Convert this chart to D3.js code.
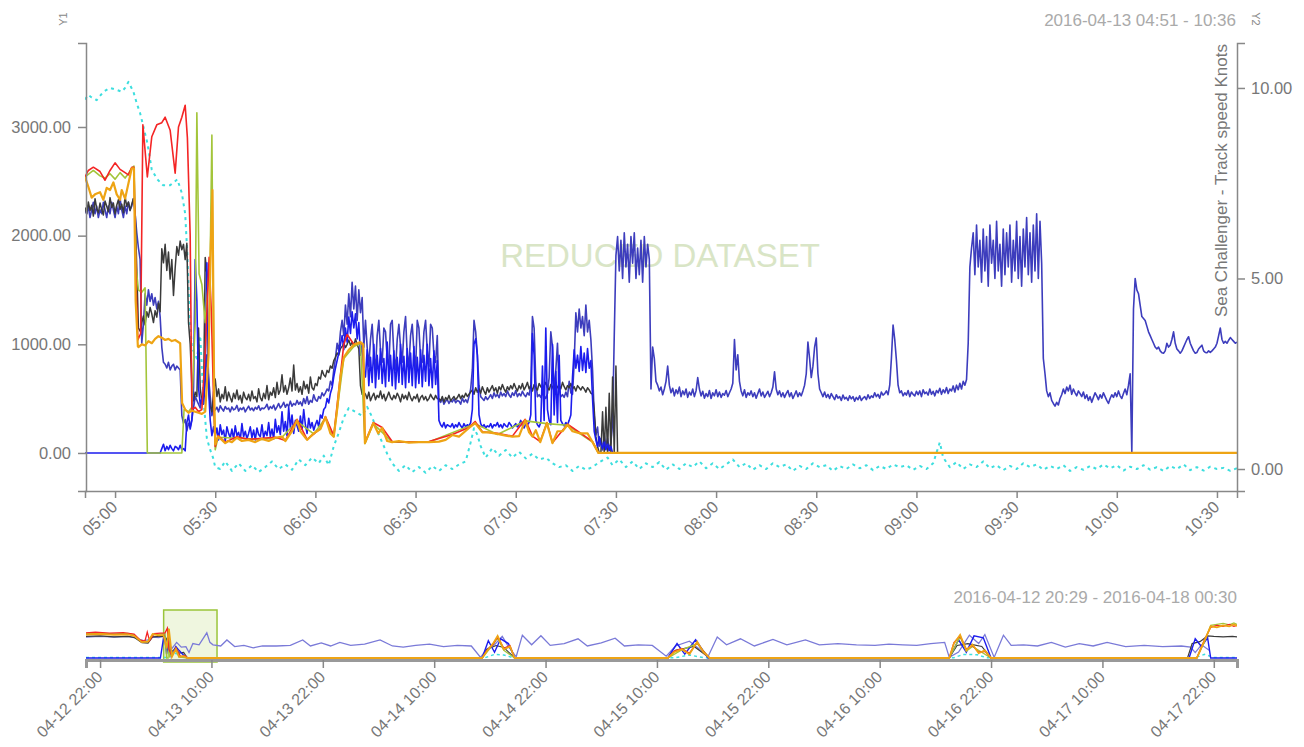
<!DOCTYPE html>
<html lang="en">
<head>
  <meta charset="UTF-8">
  <title>Sea Challenger - Track speed</title>
  <script src="https://cdn.jsdelivr.net/npm/d3@7/dist/d3.min.js"></script>
  <style>
    body { margin: 0; background: #fff; overflow: hidden; }
    svg text { font-family: "Liberation Sans", Arial, sans-serif; }
    .axis path, .axis line { stroke: #888; stroke-width: 1.5; }
    .axis text { fill: #777; font-size: 16.5px; }
    .ov-axis path { stroke: #999; stroke-width: 3; }
    .ov-axis line { stroke: #888; stroke-width: 1.5; }
    .ov-axis text { fill: #777; font-size: 16px; }
  </style>
</head>
<body>
<svg id="chart" width="1304" height="747"></svg>
<script>
  // ---- main window: 2016-04-13 04:51 - 10:36, sampled every 30 s ----
  const day = '2016-04-13';
  const sampleStart = '04:51';
  const sampleSeconds = 30;

  // track speed, knots (Y2)
  const speedKnots = [
    6.8,6.7,6.9,6.6,6.8,7.0,6.7,6.9,6.6,6.8, 6.7,7.0,6.8,6.6,6.9,6.7,7.0,6.8,6.6,6.9,
    6.7,7.1,6.8,6.6,6.9,6.7,7.0,6.8,6.9,7.1, 6.7,
    6.2,5.8,5.5,3.3,3.8,4.6,4.3,4.7,4.4,4.6,4.3,4.5,4.2,4.4,4.0,
    3.2,2.8,2.75,2.65,2.8,2.6,2.7,2.75,2.6,2.7,2.65,2.6,
    1.4,1.2,1.3,1.0,1.2,1.1,1.3,1.6,1.9,1.8,1.7,1.6,1.8,1.7,2.3,3.0,2.4,1.9,1.4,1.6,
    // 05:30
    1.55,1.62,1.5,1.66,1.58,1.52,1.64,1.57,1.6,1.5, 1.63,1.55,1.58,1.67,1.52,1.6,1.56,1.62,1.5,1.58,
    1.65,1.55,1.6,1.53,1.62,1.57,1.66,1.54,1.6,1.58, 1.62,1.7,1.56,1.64,1.59,1.68,1.55,1.63,1.72,1.6,
    1.66,1.75,1.62,1.7,1.64,1.78,1.65,1.72,1.68,1.8, 1.7,1.76,1.66,1.85,1.72,1.9,1.7,1.8,1.75,1.95,
    1.82,1.78,1.9,1.85,2.0,1.92,
    // 06:03
    2.0,2.1,2.05,2.3,2.2,2.6,2.9,3.3,3.1,3.6, 3.9,3.5,4.3,3.8,4.6,4.0,4.9,4.2,4.8,3.9, 4.7,4.1,4.5,3.2,
    // 06:15
    3.9,3.2,2.7,3.4, 3.8,3.0,2.6,3.5, 3.9,3.1,2.8,3.7, 3.6,2.9,2.7,3.8, 3.9,3.0,2.6,3.4, 3.8,3.2,2.8,3.6,
    4.0,3.0,2.7,3.5, 3.8,3.1,2.6,3.9, 3.7,2.9,2.8,3.6, 3.9,3.1,2.7,3.8, 3.7,3.0,2.8,3.5,
    // 06:37
    1.8,1.75,1.85,1.7,1.78,1.82,1.72,1.8,1.76,1.84, 1.74,1.8,1.78,1.7,1.86,1.76,1.82,1.74,1.9,2.1,
    2.6,3.9,3.6,3.0,2.2,1.9,1.85,1.8,1.9,1.82,
    1.88,1.95,1.85,2.0,1.9,1.96,1.87,2.02,1.92,1.98, 1.9,2.05,1.94,1.88,2.0,1.93,2.06,1.9,1.98,1.92,
    2.04,1.95,1.9,2.0,1.94,2.2,
    4.0,3.7,2.3,1.9, 1.95,1.88,2.0,1.92,1.85,1.98,2.4, 3.6,3.2,2.0, 2.6,3.3,2.1,1.9,
    1.95,1.88,2.02,1.9,2.3,2.0,1.96,2.8,
    4.1,3.6,4.2,3.7,4.0,3.5,4.3,3.6,3.9,3.4,2.6,
    1.4,0.9,1.1,0.6,0.8,0.5,0.9,0.6,0.8,0.5,0.7,1.2, 3.5,
    // 07:30
    5.6,6.1,5.2,6.0,5.0,6.2,5.3,5.9,4.9,6.1, 5.4,6.2,5.0,5.8,5.1,6.0,4.9,6.1,5.3,5.9,
    5.5,2.1,3.2,2.9,2.3,
    2.2,2.05,2.15,1.95,2.1,2.3,2.7,2.2,2.0,2.12, 1.92,2.08,1.98,2.15,1.9,2.05,1.95,2.1,1.88,2.02,
    1.94,2.1,1.9,2.05,2.4,2.1,1.92,2.04,1.86,1.98, 1.9,2.06,1.85,2.0,1.92,2.08,
    // 08:00
    1.9,2.02,1.88,1.98,1.94,2.06,1.9,2.0,2.1,2.25, 3.4,2.6,3.0,2.3,2.05,1.92,2.08,1.88,2.0,1.94,
    2.05,1.9,2.0,1.86,1.98,2.1,1.92,2.02,1.88,1.96, 2.04,1.9,2.0,2.15,2.55,2.1,1.95,2.05,1.9,2.0,
    1.88,1.98,2.06,1.9,2.0,1.85,1.95,2.05,1.9,2.0, 1.92,2.05,2.2,2.5,3.33,2.9,2.4,2.7,3.2,3.44,
    // 08:30
    2.5,2.1,2.0,1.9,2.02,1.88,1.96,1.85,1.98,1.9, 1.82,1.95,1.86,1.9,1.8,1.94,1.84,1.88,1.8,1.92,
    1.84,1.9,1.78,1.88,1.82,1.92,1.8,1.86,1.9,1.82, 1.95,1.85,1.92,1.88,2.0,1.9,1.96,1.86,2.02,1.94,
    1.98,2.05,1.95,2.2,2.9,3.78,3.4,2.86,2.2,2.0, 2.05,1.92,2.0,1.94,2.06,1.9,2.02,1.96,1.92,2.04,
    // 09:00
    1.95,2.05,1.9,2.08,1.98,2.02,1.94,2.1,1.96,2.04, 1.92,2.06,2.0,2.12,1.96,2.08,2.0,2.14,1.98,2.1,
    2.05,2.18,2.02,2.2,2.08,2.25,2.1,2.3,2.2,2.35, 3.3,5.3,
    5.8,6.2,5.1,6.4,5.3,6.0,4.9,6.3,5.2,6.1, 4.8,6.4,5.4,6.0,5.0,6.5,5.2,5.9,4.8,6.3,
    5.1,6.2,5.3,6.4,4.9,6.0,5.2,6.5,5.0,6.1, 4.8,6.3,5.3,6.6,5.1,6.2,4.9,6.4,5.2,6.7,
    5.0,6.5,5.4, 2.9,2.5,
    2.05,1.9,2.0,1.8,1.72,1.65,1.75,1.68,1.85,1.95, 2.1,1.98,2.15,2.05,2.2,1.96,2.1,2.0,1.92,2.05,
    1.98,1.9,2.02,1.85,1.95,1.8,1.9,1.75,1.88,2.0, 1.92,1.82,1.95,1.86,2.0,1.9,1.8,1.72,1.85,1.95,
    1.88,2.0,1.9,2.05,1.92,1.85,1.98,2.1,1.95,2.2, 2.5,
    0.45,4.2,5.0,
    // 10:06
    4.7,4.6,4.3,4.0,3.95,3.9,3.75,3.6,3.5,3.4, 3.3,3.2,3.15,3.2,3.1,3.05,3.04,3.1,3.3,3.2,
    3.25,3.4,3.6,3.3,3.15,3.1,3.04,3.1,3.2,3.3, 3.4,3.47,3.3,3.2,3.1,3.04,3.06,3.15,3.2,3.25,
    3.1,3.06,3.05,3.1,3.06,3.1,3.15,3.2,3.3,3.5, 3.7,3.4,3.3,3.35,3.3,3.38,3.45,3.4,3.35,3.3,
    3.33
  ];

  // dark grey channel (Y1)
  const blackY1 = [
    2260,2200,2310,2230,2280,2180,2340,2250,2210,2300, 2240,2190,2320,2270,2220,2350,2260,2300,2200,2280,
    2330,2240,2290,2210,2360,2270,2310,2230,2290,2340, 2250,
    1700,1150,1120,1200,1260,1180,1300,1250,1340,1280,1200,1310,1250,1380,1300,
    1880,1750,1920,1680,1850,1600,1780,1450,1700,1900, 1820,1950,1870,1920,1780,1930,1200,1000,620,480,
    560,520,1150,600,470,520,1800,1650,600,430, 380,560,
    // 05:30
    680,520,590,470,540,500,610,480,560,510, 470,550,500,580,490,530,460,560,510,490,
    540,480,570,500,520,470,590,510,480,550, 500,620,490,560,530,600,510,650,540,580,
    720,560,620,540,600,690,570,810,580,640, 560,610,540,660,590,630,550,700,600,580,
    640,620,700,680,760,720,
    // 06:03
    700,760,740,800,780,850,880,920,900,960, 980,1010,970,1000,1040,990,1020,980,1050,1000,
    960,620,540,560,
    540,500,560,480,520,550,490,530,510,570, 500,540,480,520,560,510,490,530,500,550,
    520,470,540,500,530,490,560,510,480,520, 500,540,470,510,530,490,520,480,500,540,
    510,490,530,500,
    // 06:37
    500,480,520,470,510,490,530,480,500,520, 490,510,540,500,530,510,550,520,540,560,
    580,540,600,560,590,550,610,570,540,600, 560,590,620,570,600,550,610,580,630,590,
    560,610,580,620,590,640,
    600,570,620,590,640,580,610,650,590,620, 570,630,600,580,640,610,590,620,650,600,
    580,630,610,570,640,600,620,590,650,610, 580,620,600,640,590,610,570,620,600,580,
    610,590,560,600,580,550,
    540,400,150,60,0,0,380,0,420,0,550,0,700,0,800,0
  ];

  // bright blue channel (Y1)
  const blueY1 = [
    0,0,0,0,0,0,0,0,0,0, 0,0,0,0,0,0,0,0,0,0, 0,0,0,0,0,0,0,0,0,0, 0,0,0,0,0,0,0,0,0,0, 0,0,0,0,0,0,
    40,80,20,60,30,70,40,20,60,50, 30,70,30,40,20,280,350,220,300,600,
    1780,1400,600,450,500,480,700,1750,600,300, 160,240,
    // 05:30
    150,230,120,260,170,210,110,240,180,140, 220,130,250,160,190,120,270,150,200,130,
    180,240,140,210,120,230,170,150,260,140, 200,160,280,150,220,130,310,190,250,170,
    380,200,290,160,420,230,350,180,300,250, 200,340,220,400,260,180,320,230,280,210,
    260,300,240,350,320,400,
    420,500,460,550,600,700,780,850,920,1000, 1080,950,1150,1020,1250,1100,1300,1150,1280,1050,
    1200,900,1000,750,
    700,950,620,880, 650,1000,600,900, 680,960,640,870, 610,1020,660,900, 620,940,590,880,
    650,1000,630,890, 600,960,650,920, 620,980,600,880, 640,950,610,900, 660,1000,620,870,
    600,940,630,850,
    // 06:37
    300,260,240,280,230,260,250,240,270,230, 260,240,280,250,230,270,240,260,250,280,
    400,1000,1050,900,350,270,240,260,230,250,
    240,270,230,260,250,280,240,260,230,270, 250,240,280,260,230,250,270,240,260,300,
    250,230,270,260,280,350,
    1100,900,300,260, 240,280,800,300,1150,400, 300,260,1000,350,750,280, 900,300,270,250,
    280,260,300,350,
    700,950,780,900,750,980,760,920,740,960,780,850,500,
    200,120,60,150,80,40,100,30,80,20,60,0,0,0,0,0
  ];

  // irregular channels: [clock, value]
  const orangeY1 = [
    ['04:51',2540],['04:52',2450],['04:53',2350],['04:54',2380],['04:55:30',2400],['04:56:30',2330],
    ['04:57:30',2440],['04:58:30',2420],['04:59:30',2490],['05:00:30',2380],['05:01:30',2330],['05:02',2420],
    ['05:03',2340],['05:04',2480],['05:05',2620],['05:05:40',2620],['05:06:10',1400],['05:06:50',980],
    ['05:07',975],['05:08',1000],['05:09',990],['05:10',1030],['05:11',1010],['05:12',1050],['05:13',1075],
    ['05:14',1060],['05:15',1040],['05:16',1050],['05:17',1030],['05:18',1040],['05:19:30',1010],['05:20:05',460],
    ['05:21',400],['05:22',370],['05:23',390],['05:24',380],['05:25',370],['05:26',360],['05:27',380],
    ['05:28',900],['05:28:40',1900],['05:29:10',2420],['05:29:40',600],['05:30',80],
    ['05:30:50',150],['05:32',120],['05:33',90],['05:34',110],['05:35',100],['05:36:30',140],['05:38',110],
    ['05:40',120],['05:42',100],['05:44',130],['05:46',110],['05:48',140],['05:50',150],['05:51',110],
    ['05:53',200],['05:54:30',300],['05:55:30',200],['05:57:30',120],['05:59:30',180],['06:01:30',220],
    ['06:03',330],['06:04:30',180],['06:05:30',150],['06:06:30',400],['06:07:30',700],['06:08:30',880],
    ['06:10',950],['06:11:30',995],['06:13:30',1020],['06:14:20',1000],['06:14:50',90],['06:17:20',275],
    ['06:18:50',180],['06:20',230],['06:21:30',110],['06:23',100],['06:25',110],['06:28',95],['06:31',100],
    ['06:34',100],['06:37',105],['06:39',120],['06:41',165],['06:43',150],['06:46',230],['06:47:50',275],
    ['06:50',190],['06:52',190],['06:54:30',175],['06:57',160],['06:59',150],['07:01',155],['07:02:50',300],
    ['07:04',190],['07:05',150],['07:06',210],['07:07:20',100],['07:09:20',275],['07:11',90],['07:12:30',200],
    ['07:14',200],['07:15:30',260],['07:17',200],['07:19:20',180],['07:21:30',180],['07:23',100],
    ['07:24:45',0],['10:36',0]
  ];

  const redY1 = [
    ['04:51',2540],['04:52',2600],['04:53:30',2630],['04:55:30',2590],['04:57',2510],['04:58:30',2600],
    ['05:00',2670],['05:01:30',2610],['05:03',2580],['05:04',2560],['05:05',2630],['05:05:40',2630],
    ['05:06:20',1500],['05:06:50',1040],['05:07:40',1100],['05:08:20',3020],['05:09:40',2540],['05:11',2910],
    ['05:12:30',3020],['05:14',3040],['05:15',3090],['05:16:30',2970],['05:18',2575],['05:19',3000],
    ['05:20',3090],['05:21',3200],['05:21:40',2900],['05:22:30',2000],['05:23',400],['05:24',420],
    ['05:25',380],['05:26',400],['05:27',920],['05:28:10',1800],['05:28:50',1300],['05:29:30',500],
    ['05:30',60],['05:30:50',160],['05:33',100],['05:36:30',150],['05:40',125],['05:44',135],['05:48',145],
    ['05:51',115],['05:54:30',310],['05:57:30',125],['06:01:30',225],['06:03',335],['06:05:30',160],
    ['06:07:30',720],['06:08:30',1000],['06:09:30',1090],['06:11:30',1000],['06:13:30',1015],['06:14:20',990],
    ['06:14:50',95],['06:17:20',280],['06:20',235],['06:23',105],['06:28',100],['06:34',105],['06:41',170],
    ['06:46',235],['06:47:50',290],['06:50',195],['06:54:30',180],['06:59',155],['07:02:50',310],['07:05',155],
    ['07:07:20',105],['07:09:20',280],['07:11',95],['07:15:30',265],['07:19:20',185],['07:23',105],
    ['07:24:45',0],['10:36',0]
  ];

  const limeY1 = [
    ['04:51',2540],['04:53:30',2600],['04:55:30',2550],['04:57',2530],['04:58:30',2570],['05:00',2520],
    ['05:01:30',2580],['05:03',2530],['05:04',2570],['05:05',2620],['05:05:40',2640],['05:06:20',1700],
    ['05:07',1500],['05:08',1480],['05:09',1520],['05:09:40',0],['05:20',0],['05:20:40',400],['05:22',380],
    ['05:23',420],['05:24',1200],['05:24:30',3130],['05:25:10',1650],['05:26',1550],['05:27',1200],
    ['05:28:30',1800],['05:29',2925],['05:29:40',400],['05:30',30],['05:30:50',145],['05:36:30',135],
    ['05:44',125],['05:50',145],['05:54:30',290],['05:59:30',175],['06:03',320],['06:05:30',150],
    ['06:08:30',870],['06:11:30',980],['06:13:30',1010],['06:14:50',85],['06:17:20',270],['06:23',100],
    ['06:34',100],['06:47:50',270],['06:54:30',170],['07:02:50',295],['07:09:20',270],['07:15:30',255],
    ['07:23',100],['07:24:45',0],['10:36',0]
  ];

  // dotted cyan channel, knots (Y2)
  const cyanKnots = [
    ['04:51',9.7],['04:52',9.82],['04:53',9.75],['04:54:30',9.68],['04:56:30',9.9],['04:58:30',10.0],
    ['05:00:30',9.95],['05:02',9.9],['05:03',10.0],['05:04',10.16],['05:05:30',9.9],['05:06:30',9.6],
    ['05:07:30',9.34],['05:09:40',8.56],['05:11',7.85],['05:12:40',7.6],['05:14:20',7.45],['05:16:30',7.45],
    ['05:18:40',7.6],['05:20',7.24],['05:21',6.7],['05:21:40',5.6],['05:22:20',4.0],['05:23',3.2],
    ['05:24:30',2.9],['05:25:30',3.5],['05:26:30',1.8],['05:27:30',0.8],['05:28:30',0.5],['05:29:20',0.3],
    ['05:30',0.05],['05:31:30',0.0],['05:33',0.2],['05:35',-0.05],['05:37',0.15],['05:39',-0.05],
    ['05:41',0.1],['05:43',-0.08],['05:45',0.05],['05:47',0.2],['05:49',0.0],['05:51',0.12],['05:53',-0.02],
    ['05:55',0.25],['05:57',0.1],['05:59',0.3],['06:01',0.15],['06:02:30',0.35],['06:04',0.1],['06:05:30',0.6],
    ['06:07',0.95],['06:08:30',1.35],['06:10',1.6],['06:12',1.5],['06:14',1.4],['06:15:30',1.63],['06:17',1.36],
    ['06:18:30',1.0],['06:20',0.7],['06:21:30',0.4],['06:23',0.15],['06:25',-0.05],['06:27',0.1],['06:29',-0.08],
    ['06:31',0.05],['06:33',-0.1],['06:35',0.08],['06:37',-0.05],['06:39',0.1],['06:41',0.0],['06:43',0.12],
    ['06:45',0.2],['06:46:30',0.7],['06:47:30',1.07],['06:48:30',0.9],['06:49:30',0.6],['06:51',0.3],
    ['06:53',0.55],['06:55',0.35],['06:57',0.5],['06:59',0.3],['07:01',0.45],['07:03',0.28],['07:05',0.4],
    ['07:07',0.25],['07:09',0.3],['07:11',0.15],['07:13',0.05],['07:15',0.1],['07:17',-0.05],['07:19',0.08],
    ['07:21',-0.02],['07:23',0.05],['07:25',0.18],['07:27:30',0.3],['07:29',0.1],['07:31',0.25],['07:33',0.05],
    ['07:35',0.2],['07:37',0.0],['07:39',0.15],['07:41',0.05],['07:43',0.18],['07:45',-0.02],['07:47',0.12],
    ['07:49',0.0],['07:51',0.15],['07:53',0.05],['07:55',0.2],['07:57',0.02],['07:59',0.15],['08:01',0.0],
    ['08:03',0.12],['08:05',0.25],['08:07',0.05],['08:09',0.15],['08:11',-0.02],['08:13',0.1],['08:15',0.0],
    ['08:17',0.15],['08:19',0.05],['08:21',0.12],['08:23',-0.05],['08:25',0.08],['08:27',0.0],['08:29',0.15],
    ['08:31',0.05],['08:33',0.1],['08:35',-0.05],['08:37',0.08],['08:39',0.0],['08:41',0.12],['08:43',0.02],
    ['08:45',0.1],['08:47',-0.03],['08:49',0.08],['08:51',0.0],['08:53',0.12],['08:55',0.05],['08:57',0.1],
    ['08:59',-0.02],['09:01',0.08],['09:03',0.0],['09:05',0.15],['09:07',0.7],['09:08',0.3],['09:10',0.05],
    ['09:12',0.18],['09:14',0.0],['09:16',0.12],['09:18',0.05],['09:20',0.2],['09:22',0.02],['09:24',0.1],
    ['09:26',-0.03],['09:28',0.08],['09:30',0.0],['09:32',0.15],['09:34',0.05],['09:36',0.12],['09:38',-0.02],
    ['09:40',0.08],['09:42',0.0],['09:44',0.1],['09:46',-0.05],['09:48',0.05],['09:50',-0.02],['09:52',0.08],
    ['09:54',0.0],['09:56',0.12],['09:58',0.02],['10:00',0.1],['10:02',-0.04],['10:04',0.06],['10:06',0.0],
    ['10:08',0.1],['10:10',-0.02],['10:12',0.05],['10:14',-0.05],['10:16',0.08],['10:18',0.0],['10:20',0.12],
    ['10:22',-0.03],['10:24',0.05],['10:26',-0.04],['10:28',0.06],['10:30',0.0],['10:32',0.03],['10:34',-0.05],
    ['10:36',0.02]
  ];

  const y1Ticks = [0, 1000, 2000, 3000];
  const y2Ticks = [0, 5, 10];

  // ---- overview (reduced dataset): 2016-04-12 20:29 - 2016-04-18 00:30 ----
  const overviewTicks = ['04-12 22:00','04-13 10:00','04-13 22:00','04-14 10:00','04-14 22:00','04-15 10:00',
    '04-15 22:00','04-16 10:00','04-16 22:00','04-17 10:00','04-17 22:00'];

  const ovSpeed = [
    ['04-12 20:29',3.5],['04-12 22:00',3.6],['04-12 23:30',3.5],['04-13 01:00',3.6],['04-13 01:40',3.4],
    ['04-13 02:40',2.9],['04-13 03:10',3.0],['04-13 03:40',3.5],['04-13 04:20',3.4],['04-13 04:50',3.6],
    ['04-13 05:15',2.6],['04-13 05:45',1.6],['04-13 06:15',2.6],['04-13 06:45',1.8],['04-13 07:15',1.9],
    ['04-13 07:35',0.9],['04-13 08:00',2.4],['04-13 08:40',2.2],['04-13 09:10',3.4],['04-13 09:30',4.2],
    ['04-13 09:50',2.6],['04-13 10:10',2.2],['04-13 11:00',2.0],['04-13 11:40',3.0],['04-13 12:30',1.9],
    ['04-13 13:30',2.1],['04-13 14:30',1.7],['04-13 15:30',2.0],['04-13 17:00',2.0],['04-13 18:30',2.1],
    ['04-13 19:50',3.0],['04-13 20:40',2.0],['04-13 21:50',2.5],['04-13 22:50',2.0],['04-13 23:50',2.6],
    ['04-14 01:00',2.1],['04-14 02:30',2.3],['04-14 04:10',3.0],['04-14 05:30',2.0],['04-14 06:40',1.8],
    ['04-14 08:00',2.1],['04-14 09:30',2.3],['04-14 11:00',1.9],['04-14 12:30',2.1],['04-14 14:00',2.0],
    ['04-14 15:00',0.1],['04-14 15:40',1.5],['04-14 16:30',2.2],['04-14 17:20',3.6],['04-14 18:00',1.9],
    ['04-14 18:50',0.2],['04-14 19:30',3.8],['04-14 20:30',2.2],['04-14 21:30',3.7],['04-14 22:30',2.1],
    ['04-15 00:00',2.4],['04-15 01:30',3.2],['04-15 02:30',2.0],['04-15 04:00',2.5],['04-15 05:30',3.3],
    ['04-15 06:30',2.0],['04-15 08:00',2.2],['04-15 09:30',2.1],['04-15 11:00',0.3],['04-15 12:00',2.0],
    ['04-15 13:30',2.8],['04-15 14:30',1.6],['04-15 15:30',0.2],['04-15 16:30',3.5],['04-15 17:30',2.2],
    ['04-15 19:00',3.2],['04-15 20:30',2.0],['04-15 22:30',3.1],['04-16 00:00',2.2],['04-16 02:00',3.0],
    ['04-16 03:30',2.2],['04-16 05:30',2.4],['04-16 07:30',2.2],['04-16 09:30',2.1],['04-16 11:00',2.3],
    ['04-16 12:30',2.2],['04-16 14:00',2.1],['04-16 15:30',2.4],['04-16 17:00',2.6],['04-16 17:30',0.1],
    ['04-16 18:30',1.0],['04-16 19:40',3.8],['04-16 20:40',2.4],['04-16 21:20',3.9],['04-16 22:20',0.1],
    ['04-16 23:20',3.8],['04-17 00:10',2.1],['04-17 01:30',2.2],['04-17 03:00',2.0],['04-17 04:30',2.6],
    ['04-17 06:00',1.8],['04-17 07:30',2.4],['04-17 09:00',2.0],['04-17 10:30',2.6],['04-17 12:30',1.9],
    ['04-17 14:30',2.1],['04-17 16:30',1.9],['04-17 18:30',2.0],['04-17 19:30',1.8],['04-17 20:00',0.9],
    ['04-17 20:40',2.2],['04-17 21:30',1.3]
  ];

  const ovOrange = [
    ['04-12 20:29',2450],['04-12 22:00',2500],['04-12 23:30',2400],['04-13 01:00',2450],['04-13 01:40',2300],
    ['04-13 02:30',1650],['04-13 03:10',1700],['04-13 03:40',2500],['04-13 04:20',2350],['04-13 04:50',2400],
    ['04-13 05:10',1000],['04-13 05:25',3000],['04-13 05:45',150],['04-13 06:10',950],['04-13 06:30',120],
    ['04-13 07:00',200],['04-13 07:25',0],['04-14 15:10',0],['04-14 15:40',700],['04-14 16:20',1500],
    ['04-14 16:50',2300],['04-14 17:30',900],['04-14 18:10',1200],['04-14 18:40',0],['04-15 11:10',0],
    ['04-15 11:50',600],['04-15 12:40',900],['04-15 13:30',400],['04-15 14:20',1700],['04-15 15:00',600],
    ['04-15 15:40',0],['04-16 17:30',0],['04-16 18:00',1500],['04-16 18:40',2400],['04-16 19:20',800],
    ['04-16 20:00',1400],['04-16 20:40',500],['04-16 21:20',800],['04-16 22:00',0],['04-17 20:10',0],
    ['04-17 21:00',1800],['04-17 21:40',3300],['04-17 22:20',3200],['04-17 23:00',3400],['04-17 23:40',3300],
    ['04-18 00:10',3500],['04-18 00:30',3350]
  ];

  const ovRed = [
    ['04-12 20:29',2620],['04-12 21:30',2680],['04-12 23:00',2600],['04-13 00:30',2650],['04-13 01:40',2500],
    ['04-13 02:20',1850],['04-13 02:50',1750],['04-13 03:05',2700],['04-13 03:20',1800],['04-13 03:50',2550],
    ['04-13 04:30',2600],['04-13 05:00',2620],['04-13 05:15',3100],['04-13 05:25',900],['04-13 05:45',200],
    ['04-13 06:10',1050],['04-13 06:40',150],['04-13 07:10',250],['04-13 07:25',0],['04-14 15:10',0],
    ['04-14 15:40',800],['04-14 16:20',1400],['04-14 16:50',2200],['04-14 17:30',1000],['04-14 18:10',1300],
    ['04-14 18:40',0],['04-15 11:10',0],['04-15 11:50',700],['04-15 12:40',1000],['04-15 13:30',500],
    ['04-15 14:20',1600],['04-15 15:00',700],['04-15 15:40',0],['04-16 17:30',0],['04-16 18:00',1600],
    ['04-16 18:40',2300],['04-16 19:20',900],['04-16 20:00',1300],['04-16 20:40',600],['04-16 21:20',700],
    ['04-16 22:00',0],['04-17 20:10',0],['04-17 21:00',1900],['04-17 21:40',3200],['04-17 22:20',3400],
    ['04-17 23:00',3300],['04-17 23:40',3500],['04-18 00:10',3300],['04-18 00:30',3400]
  ];

  const ovLime = [
    ['04-12 20:29',2550],['04-12 22:00',2580],['04-12 23:30',2520],['04-13 01:00',2560],['04-13 01:40',2400],
    ['04-13 02:30',1700],['04-13 03:10',1750],['04-13 03:40',2450],['04-13 04:30',2500],['04-13 05:00',2550],
    ['04-13 05:10',0],['04-13 05:20',0],['04-13 05:24',3100],['04-13 05:30',150],['04-13 06:10',950],
    ['04-13 06:30',120],['04-13 07:25',0],['04-14 15:10',0],['04-14 16:20',1400],['04-14 16:50',2100],
    ['04-14 17:30',800],['04-14 18:40',0],['04-15 11:10',0],['04-15 12:40',850],['04-15 14:20',1500],
    ['04-15 15:40',0],['04-16 17:30',0],['04-16 18:40',2200],['04-16 19:20',700],['04-16 20:00',1200],
    ['04-16 22:00',0],['04-17 20:10',0],['04-17 21:00',1700],['04-17 21:40',3400],['04-17 22:20',3500],
    ['04-17 23:00',3600],['04-17 23:40',3450],['04-18 00:10',3650],['04-18 00:30',3500]
  ];

  const ovBlack = [
    ['04-12 20:29',2250],['04-12 22:00',2300],['04-12 23:30',2200],['04-13 01:00',2250],['04-13 01:40',2150],
    ['04-13 02:30',1600],['04-13 03:10',1550],['04-13 03:40',2200],['04-13 04:30',2250],['04-13 05:00',2250],
    ['04-13 05:15',1800],['04-13 05:30',500],['04-13 06:10',1000],['04-13 06:30',500],['04-13 07:00',580],
    ['04-13 07:25',0],['04-14 15:10',0],['04-14 15:40',900],['04-14 16:40',1300],['04-14 17:30',1100],
    ['04-14 18:40',0],['04-15 11:10',0],['04-15 12:00',800],['04-15 14:00',1200],['04-15 15:40',0],
    ['04-16 17:30',0],['04-16 18:20',1300],['04-16 19:30',1500],['04-16 21:00',1200],['04-16 22:00',0],
    ['04-17 19:10',0],['04-17 19:40',1500],['04-17 20:30',1700],['04-17 21:20',2300],['04-17 22:00',2250],
    ['04-17 23:00',2200],['04-18 00:00',2250],['04-18 00:30',2200]
  ];

  const ovBlue = [
    ['04-12 20:29',0],['04-13 04:30',0],['04-13 04:55',2600],['04-13 05:10',400],['04-13 05:25',1800],
    ['04-13 05:40',200],['04-13 06:10',1200],['04-13 06:30',800],['04-13 07:00',300],['04-13 07:25',0],
    ['04-14 15:10',0],['04-14 15:50',1800],['04-14 16:30',600],['04-14 17:10',2000],['04-14 18:00',1500],
    ['04-14 18:40',0],['04-15 11:10',0],['04-15 12:10',1500],['04-15 13:00',400],['04-15 14:10',1900],
    ['04-15 15:30',0],['04-16 17:30',0],['04-16 18:30',1900],['04-16 19:20',600],['04-16 20:10',2300],
    ['04-16 21:10',2100],['04-16 22:00',0],['04-17 19:20',0],['04-17 20:00',2000],['04-17 20:40',1200],
    ['04-17 21:20',2100],['04-17 21:40',0],['04-18 00:30',0]
  ];

  const ovCyan = [
    ['04-12 20:29',0.1],['04-13 05:20',0.1],['04-13 05:40',0.6],['04-13 06:10',0.8],['04-13 06:40',0.2],
    ['04-13 07:30',0.05],['04-14 15:30',0.05],['04-14 16:30',0.6],['04-14 17:30',0.5],['04-14 18:30',0.05],
    ['04-15 12:00',0.05],['04-15 13:30',0.5],['04-15 15:00',0.05],['04-16 18:00',0.05],['04-16 19:00',0.6],
    ['04-16 20:30',0.55],['04-16 21:30',0.05],['04-17 20:00',0.05],['04-17 21:00',0.6],['04-17 22:00',0.1],
    ['04-18 00:30',0.1]
  ];

  // ---- helpers ----
  const parseFull = d3.timeParse('%Y-%m-%d %H:%M:%S');
  const clock = s => parseFull(`${day} ${s.length === 5 ? s + ':00' : s}`);
  const ovTime = s => parseFull(`2016-${s}:00`);
  const sampled = values => values.map((v, i) => ({ t: d3.timeSecond.offset(clock(sampleStart), i * sampleSeconds), v }));
  const paired = rows => rows.map(([t, v]) => ({ t: clock(t), v }));
  const ovPaired = rows => rows.map(([t, v]) => ({ t: ovTime(t), v }));

  const svg = d3.select('#chart');

  // ---- main chart ----
  const x = d3.scaleTime().domain([clock('04:51'), clock('10:36')]).range([85, 1237]);
  const y1 = d3.scaleLinear().domain([-350, 3773]).range([491, 43]);
  const y2 = d3.scaleLinear().domain([-0.577, 11.18]).range([491, 43]);

  svg.append('clipPath').attr('id', 'mainClip')
    .append('rect').attr('x', 85).attr('y', 43).attr('width', 1152).attr('height', 448);

  svg.append('text')
    .attr('x', 660).attr('y', 267)
    .attr('text-anchor', 'middle')
    .style('font-size', '33px')
    .style('fill', '#d9e5c6')
    .text('REDUCED DATASET');

  const mainSeries = [
    { data: paired(cyanKnots), y: y2, color: '#3ddede', width: 2, dash: '3,4' },
    { data: sampled(speedKnots), y: y2, color: '#3d3dbd', width: 1.6 },
    { data: sampled(blackY1), y: y1, color: '#3a3a3a', width: 1.5 },
    { data: sampled(blueY1), y: y1, color: '#1c1cee', width: 1.6 },
    { data: paired(limeY1), y: y1, color: '#a3c53a', width: 1.6 },
    { data: paired(redY1), y: y1, color: '#f42525', width: 1.6 },
    { data: paired(orangeY1), y: y1, color: '#eea414', width: 2.2 }
  ];

  const mainG = svg.append('g').attr('clip-path', 'url(#mainClip)');
  mainSeries.forEach(s => {
    mainG.append('path')
      .datum(s.data)
      .attr('fill', 'none')
      .attr('stroke', s.color)
      .attr('stroke-width', s.width)
      .attr('stroke-linejoin', 'round')
      .attr('stroke-dasharray', s.dash || null)
      .attr('d', d3.line().x(d => x(d.t)).y(d => s.y(d.v)));
  });

  const xAxis = svg.append('g').attr('class', 'axis')
    .attr('transform', 'translate(0,491)')
    .call(d3.axisBottom(x).ticks(d3.timeMinute.every(30)).tickFormat(d3.timeFormat('%H:%M')).tickSize(7));
  xAxis.selectAll('text')
    .attr('x', null).attr('y', null).attr('dy', null)
    .attr('transform', 'translate(3,17) rotate(-45)')
    .style('text-anchor', 'end');

  svg.append('g').attr('class', 'axis')
    .attr('transform', 'translate(86,0)')
    .call(d3.axisLeft(y1).tickValues(y1Ticks).tickFormat(d3.format('.2f')).tickSize(8).tickPadding(7));

  svg.append('g').attr('class', 'axis')
    .attr('transform', 'translate(1237,0)')
    .call(d3.axisRight(y2).tickValues(y2Ticks).tickFormat(d3.format('.2f')).tickSize(8).tickPadding(6));

  svg.append('text')
    .attr('transform', 'translate(1227,44) rotate(-90)')
    .attr('text-anchor', 'end')
    .style('font-size', '17px').style('fill', '#777')
    .text('Sea Challenger - Track speed Knots');

  svg.append('text')
    .attr('transform', 'translate(67,19) rotate(-90)')
    .attr('text-anchor', 'middle')
    .style('font-size', '11px').style('fill', '#888')
    .text('Y1');

  svg.append('text')
    .attr('transform', 'translate(1252,19) rotate(90)')
    .attr('text-anchor', 'middle')
    .style('font-size', '11px').style('fill', '#888')
    .text('Y2');

  svg.append('text')
    .attr('x', 1236).attr('y', 26)
    .attr('text-anchor', 'end')
    .style('font-size', '17px').style('fill', '#aaa')
    .text('2016-04-13 04:51 - 10:36');

  // ---- overview ----
  const ox = d3.scaleTime().domain([ovTime('04-12 20:29'), ovTime('04-18 00:30')]).range([86, 1237]);
  const oy1 = d3.scaleLinear().domain([-417, 5000]).range([662, 610]);
  const oy2 = d3.scaleLinear().domain([-0.67, 8]).range([662, 610]);

  svg.append('clipPath').attr('id', 'ovClip')
    .append('rect').attr('x', 86).attr('y', 600).attr('width', 1151).attr('height', 62);

  svg.append('rect')
    .attr('x', ox(clock('04:51'))).attr('y', 610)
    .attr('width', ox(clock('10:36')) - ox(clock('04:51'))).attr('height', 52)
    .attr('fill', 'rgba(154,197,58,0.16)')
    .attr('stroke', '#9ac53a').attr('stroke-width', 1.5);

  const ovSeries = [
    { data: ovPaired(ovCyan), y: oy2, color: '#3ddede', width: 1.5, dash: '3,3' },
    { data: ovPaired(ovSpeed), y: oy2, color: '#7a7ad8', width: 1.3 },
    { data: ovPaired(ovBlack), y: oy1, color: '#3a3a3a', width: 1.2 },
    { data: ovPaired(ovBlue), y: oy1, color: '#1c1cee', width: 1.4 },
    { data: ovPaired(ovLime), y: oy1, color: '#a3c53a', width: 1.3 },
    { data: ovPaired(ovRed), y: oy1, color: '#f42525', width: 1.3 },
    { data: ovPaired(ovOrange), y: oy1, color: '#eea414', width: 1.8 }
  ];

  const ovG = svg.append('g').attr('clip-path', 'url(#ovClip)');
  ovSeries.forEach(s => {
    ovG.append('path')
      .datum(s.data)
      .attr('fill', 'none')
      .attr('stroke', s.color)
      .attr('stroke-width', s.width)
      .attr('stroke-dasharray', s.dash || null)
      .attr('d', d3.line().x(d => ox(d.t)).y(d => s.y(d.v)));
  });

  const ovAxis = svg.append('g').attr('class', 'ov-axis')
    .attr('transform', 'translate(0,660)')
    .call(d3.axisBottom(ox).tickValues(overviewTicks.map(ovTime))
      .tickFormat(d3.timeFormat('%m-%d %H:%M')).tickSize(8));
  ovAxis.selectAll('text')
    .attr('x', null).attr('y', null).attr('dy', null)
    .attr('transform', 'translate(3,18) rotate(-45)')
    .style('text-anchor', 'end');

  svg.append('text')
    .attr('x', 1237).attr('y', 603)
    .attr('text-anchor', 'end')
    .style('font-size', '17px').style('fill', '#aaa')
    .text('2016-04-12 20:29 - 2016-04-18 00:30');
</script>
</body>
</html>
